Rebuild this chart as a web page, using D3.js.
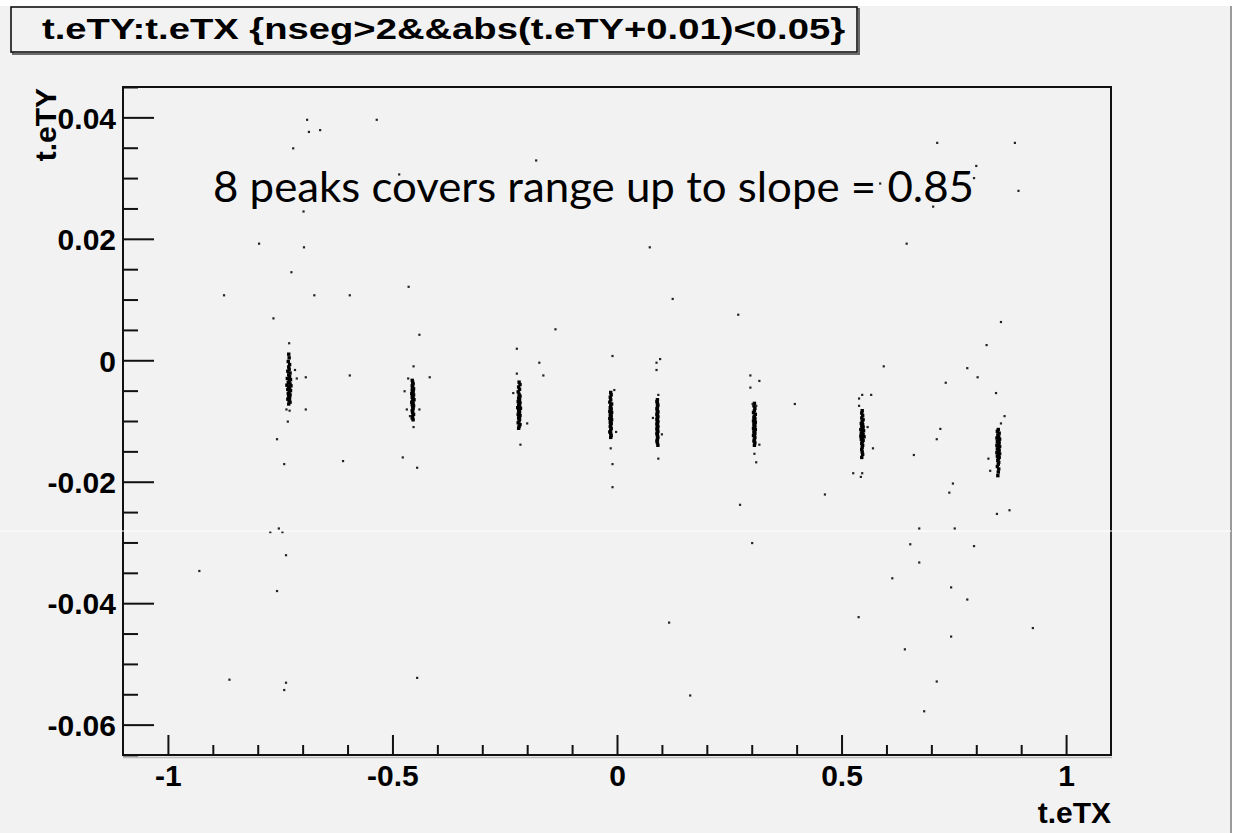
<!DOCTYPE html>
<html><head><meta charset="utf-8">
<script src="https://cdn.jsdelivr.net/npm/d3@7/dist/d3.min.js"></script>
<style>html,body{margin:0;padding:0;background:#fff;}svg{display:block;}</style>
</head><body>
<script>
// ---- data ----
const titleText = "t.eTY:t.eTX {nseg>2&&abs(t.eTY+0.01)<0.05}";
const noteText = "8 peaks covers range up to slope = 0.85";
const xTitle = "t.eTX", yTitle = "t.eTY";
const xMajor = [-1, -0.5, 0, 0.5, 1];
const xMajorLabels = ["-1", "-0.5", "0", "0.5", "1"];
const yMajor = [-0.06, -0.04, -0.02, 0, 0.02, 0.04];
const yMajorLabels = ["-0.06", "-0.04", "-0.02", "0", "0.02", "0.04"];
const xDomain = [-1.1, 1.1];
const yDomain = [-0.065, 0.045];

const peak1 = [[-0.731,0.0010],[-0.730,0.0004],[-0.732,-0.0002],[-0.729,-0.0007],[-0.731,-0.0011],[-0.730,-0.0015],[-0.733,-0.0018],[-0.728,-0.0021],[-0.731,-0.0024],[-0.729,-0.0027],[-0.734,-0.0030],[-0.727,-0.0032],[-0.730,-0.0034],[-0.732,-0.0037],[-0.728,-0.0039],[-0.735,-0.0041],[-0.726,-0.0042],[-0.731,-0.0044],[-0.729,-0.0046],[-0.733,-0.0048],[-0.727,-0.0050],[-0.730,-0.0052],[-0.732,-0.0055],[-0.728,-0.0057],[-0.731,-0.0059],[-0.729,-0.0062],[-0.733,-0.0064],[-0.730,-0.0066],[-0.728,-0.0069],[-0.731,-0.0072]];
const peak2 = [[-0.456,-0.0033],[-0.455,-0.0036],[-0.454,-0.0039],[-0.456,-0.0042],[-0.455,-0.0045],[-0.453,-0.0047],[-0.456,-0.0049],[-0.454,-0.0051],[-0.455,-0.0053],[-0.457,-0.0055],[-0.453,-0.0057],[-0.455,-0.0059],[-0.456,-0.0061],[-0.454,-0.0063],[-0.452,-0.0065],[-0.455,-0.0067],[-0.457,-0.0069],[-0.454,-0.0071],[-0.456,-0.0073],[-0.453,-0.0075],[-0.455,-0.0077],[-0.454,-0.0080],[-0.456,-0.0083],[-0.455,-0.0086],[-0.453,-0.0089],[-0.455,-0.0092],[-0.456,-0.0095],[-0.454,-0.0098]];
const peak3 = [[-0.218,-0.0036],[-0.216,-0.0040],[-0.219,-0.0044],[-0.217,-0.0048],[-0.220,-0.0052],[-0.218,-0.0056],[-0.216,-0.0059],[-0.219,-0.0062],[-0.217,-0.0064],[-0.218,-0.0066],[-0.220,-0.0068],[-0.216,-0.0070],[-0.218,-0.0072],[-0.219,-0.0074],[-0.217,-0.0076],[-0.221,-0.0078],[-0.215,-0.0079],[-0.218,-0.0081],[-0.219,-0.0083],[-0.217,-0.0085],[-0.218,-0.0087],[-0.220,-0.0089],[-0.216,-0.0091],[-0.218,-0.0093],[-0.219,-0.0095],[-0.217,-0.0097],[-0.218,-0.0100],[-0.220,-0.0103],[-0.216,-0.0106],[-0.218,-0.0109],[-0.219,-0.0112]];
const peak4 = [[-0.014,-0.0053],[-0.013,-0.0057],[-0.015,-0.0061],[-0.014,-0.0065],[-0.016,-0.0069],[-0.012,-0.0072],[-0.014,-0.0075],[-0.015,-0.0078],[-0.013,-0.0080],[-0.014,-0.0082],[-0.016,-0.0084],[-0.012,-0.0086],[-0.014,-0.0088],[-0.015,-0.0090],[-0.013,-0.0092],[-0.014,-0.0094],[-0.016,-0.0096],[-0.012,-0.0098],[-0.014,-0.0100],[-0.015,-0.0102],[-0.013,-0.0104],[-0.014,-0.0106],[-0.015,-0.0109],[-0.013,-0.0112],[-0.014,-0.0115],[-0.016,-0.0118],[-0.014,-0.0121],[-0.013,-0.0124],[-0.014,-0.0127]];
const peak5 = [[0.090,-0.0065],[0.089,-0.0068],[0.090,-0.0071],[0.091,-0.0074],[0.090,-0.0077],[0.089,-0.0080],[0.090,-0.0083],[0.091,-0.0085],[0.090,-0.0087],[0.089,-0.0089],[0.090,-0.0091],[0.091,-0.0093],[0.090,-0.0095],[0.089,-0.0097],[0.090,-0.0099],[0.091,-0.0101],[0.090,-0.0103],[0.089,-0.0105],[0.090,-0.0107],[0.091,-0.0109],[0.090,-0.0111],[0.089,-0.0113],[0.090,-0.0115],[0.091,-0.0117],[0.090,-0.0119],[0.089,-0.0121],[0.090,-0.0124],[0.091,-0.0127],[0.090,-0.0130],[0.089,-0.0133],[0.090,-0.0136],[0.091,-0.0140]];
const peak6 = [[0.306,-0.0071],[0.305,-0.0075],[0.307,-0.0079],[0.306,-0.0083],[0.304,-0.0086],[0.308,-0.0089],[0.306,-0.0092],[0.305,-0.0094],[0.307,-0.0096],[0.306,-0.0098],[0.304,-0.0100],[0.308,-0.0102],[0.306,-0.0104],[0.305,-0.0106],[0.307,-0.0108],[0.306,-0.0110],[0.304,-0.0112],[0.308,-0.0114],[0.306,-0.0116],[0.305,-0.0118],[0.307,-0.0120],[0.306,-0.0122],[0.304,-0.0124],[0.307,-0.0127],[0.306,-0.0130],[0.305,-0.0133],[0.307,-0.0136],[0.306,-0.0140]];
const peak7 = [[0.546,-0.0083],[0.545,-0.0087],[0.547,-0.0091],[0.545,-0.0095],[0.548,-0.0098],[0.546,-0.0101],[0.544,-0.0104],[0.547,-0.0106],[0.545,-0.0108],[0.548,-0.0110],[0.546,-0.0112],[0.543,-0.0114],[0.549,-0.0116],[0.546,-0.0118],[0.544,-0.0120],[0.548,-0.0122],[0.546,-0.0124],[0.543,-0.0125],[0.550,-0.0126],[0.546,-0.0128],[0.544,-0.0130],[0.548,-0.0132],[0.546,-0.0134],[0.545,-0.0137],[0.547,-0.0140],[0.546,-0.0143],[0.545,-0.0147],[0.546,-0.0151],[0.547,-0.0155],[0.545,-0.0160]];
const peak8 = [[0.849,-0.0114],[0.847,-0.0117],[0.851,-0.0120],[0.848,-0.0123],[0.850,-0.0126],[0.846,-0.0128],[0.852,-0.0130],[0.849,-0.0132],[0.847,-0.0134],[0.851,-0.0136],[0.849,-0.0138],[0.846,-0.0140],[0.852,-0.0142],[0.849,-0.0144],[0.847,-0.0146],[0.851,-0.0148],[0.849,-0.0150],[0.846,-0.0152],[0.852,-0.0154],[0.849,-0.0156],[0.847,-0.0158],[0.851,-0.0160],[0.849,-0.0162],[0.848,-0.0165],[0.850,-0.0168],[0.849,-0.0171],[0.847,-0.0175],[0.850,-0.0179],[0.849,-0.0184],[0.848,-0.0190]];

const outliers = [
[-0.690,0.0396],[-0.535,0.0396],[-0.686,0.0376],[-0.661,0.0379],[-0.721,0.0349],[-0.180,0.0329],[-0.485,0.0306],[-0.698,0.0245],[-0.797,0.0192],[-0.697,0.0186],[-0.725,0.0145],[-0.464,0.0121],[-0.875,0.0107],[-0.674,0.0107],[-0.595,0.0107],[-0.765,0.0069],[-0.440,0.0042],[-0.137,0.0051],
[0.713,0.0358],[0.886,0.0358],[0.800,0.0320],[0.795,0.0300],[0.586,0.0291],[0.894,0.0279],[0.704,0.0253],[0.073,0.0186],[0.645,0.0192],[0.124,0.0101],[0.270,0.0075],[0.855,0.0063],
[-0.730,0.0028],[-0.717,-0.0016],[-0.713,-0.0030],[-0.693,-0.0028],[-0.693,-0.0081],[-0.736,-0.0081],[-0.729,-0.0083],[-0.733,-0.0101],[-0.757,-0.0130],[-0.595,-0.0025],
[-0.453,-0.0010],[-0.465,-0.0030],[-0.417,-0.0028],[-0.473,-0.0051],[-0.440,-0.0081],[-0.468,-0.0081],[-0.461,-0.0092],[-0.453,-0.0110],[-0.477,-0.0160],
[-0.223,0.0019],[-0.173,-0.0004],[-0.164,-0.0025],[-0.223,-0.0022],[-0.231,-0.0054],[-0.200,-0.0104],[-0.215,-0.0139],
[-0.010,0.0007],[-0.006,-0.0049],[-0.002,-0.0118],[-0.014,-0.0145],
[0.088,-0.0004],[0.096,0.0002],[0.088,-0.0016],[0.092,-0.0057],[0.080,-0.0095],[0.100,-0.0122],[0.092,-0.0162],
[0.297,-0.0025],[0.317,-0.0034],[0.297,-0.0045],[0.302,-0.0072],[0.310,-0.0075],[0.317,-0.0139],[0.306,-0.0154],[0.396,-0.0072],
[0.594,-0.0010],[0.546,-0.0057],[0.566,-0.0057],[0.539,-0.0063],[0.539,-0.0075],[0.558,-0.0110],[0.570,-0.0145],
[0.823,0.0025],[0.780,-0.0013],[0.803,-0.0028],[0.732,-0.0037],[0.844,-0.0054],[0.863,-0.0092],[0.855,-0.0104],[0.720,-0.0113],[0.712,-0.0130],[0.661,-0.0156],[0.827,-0.0162],[0.831,-0.0182],
[-0.741,-0.0171],[-0.610,-0.0166],[-0.445,-0.0177],[-0.010,-0.0171],[-0.010,-0.0209],[-0.753,-0.0277],[-0.772,-0.0283],[-0.745,-0.0283],[-0.737,-0.0321],[-0.930,-0.0347],[-0.757,-0.0380],[-0.863,-0.0526],[-0.737,-0.0531],[-0.741,-0.0543],[-0.445,-0.0523],
[0.310,-0.0168],[0.526,-0.0186],[0.546,-0.0186],[0.543,-0.0192],[0.463,-0.0221],[0.748,-0.0203],[0.740,-0.0218],[0.274,-0.0238],[0.846,-0.0253],[0.874,-0.0247],[0.673,-0.0277],[0.752,-0.0277],[0.301,-0.0301],[0.653,-0.0303],[0.795,-0.0306],[0.673,-0.0333],[0.613,-0.0359],[0.744,-0.0374],[0.780,-0.0394],[0.538,-0.0423],[0.116,-0.0432],[0.926,-0.0441],[0.744,-0.0455],[0.641,-0.0476],[0.712,-0.0529],[0.163,-0.0552],[0.684,-0.0578]
];

// ---- drawing ----
const W = 1236, H = 833;
const frame = {left: 123, top: 87, right: 1111, bottom: 755};
const svg = d3.select("body").append("svg").attr("width", W).attr("height", H);

svg.append("rect").attr("width", W).attr("height", H).attr("fill", "#f2f2f2");
svg.append("rect").attr("x", 0).attr("y", 0).attr("width", W).attr("height", 6).attr("fill", "#ffffff");
svg.append("rect").attr("x", 1232).attr("y", 0).attr("width", 4).attr("height", H).attr("fill", "#ffffff");
svg.append("line").attr("x1", 1231).attr("x2", 1231).attr("y1", 6).attr("y2", H).attr("stroke", "#9a9a9a").attr("stroke-width", 2);

const x = d3.scaleLinear().domain(xDomain).range([frame.left, frame.right]);
const y = d3.scaleLinear().domain(yDomain).range([frame.bottom, frame.top]);

const fontAxis = "'Liberation Sans', Arial, sans-serif";

// title box
svg.append("rect").attr("x", 13).attr("y", 9).attr("width", 846).attr("height", 45)
  .attr("fill", "none").attr("stroke", "#6a6a6a").attr("stroke-width", 2);
svg.append("rect").attr("x", 11).attr("y", 7).attr("width", 846).attr("height", 45)
  .attr("fill", "#f2f2f2").attr("stroke", "#111").attr("stroke-width", 1.6);
svg.append("text").attr("x", 42).attr("y", 39).text(titleText)
  .attr("font-family", fontAxis).attr("font-weight", "bold").attr("font-size", 30)
  .attr("textLength", 803).attr("lengthAdjust", "spacingAndGlyphs").attr("fill", "#000");

// points
const pts = [].concat(peak1, peak2, peak3, peak4, peak5, peak6, peak7, peak8);
svg.append("g").selectAll("rect").data(pts).join("rect")
  .attr("x", d => x(d[0]) - 1.7).attr("y", d => y(d[1]) - 1.7)
  .attr("width", 3.4).attr("height", 3.4).attr("fill", "#000");
svg.append("g").selectAll("rect").data(outliers).join("rect")
  .attr("x", d => x(d[0]) - 1.1).attr("y", d => y(d[1]) - 1.1)
  .attr("width", 2.2).attr("height", 2.2).attr("fill", "#222");

// axes
const xMinor = d3.range(-1.1, 1.1001, 0.1).map(v => +v.toFixed(2)).filter(v => !xMajor.some(m => Math.abs(m - v) < 1e-9));
const yMinor = d3.range(-0.065, 0.0451, 0.005).map(v => +v.toFixed(3)).filter(v => !yMajor.some(m => Math.abs(m - v) < 1e-9));

function styleAxis(g) {
  g.select(".domain").remove();
  g.selectAll(".tick line").attr("stroke", "#111").attr("stroke-width", 2);
  g.selectAll("text").attr("font-family", fontAxis).attr("font-weight", "bold").attr("font-size", 30).attr("fill", "#000");
}

svg.append("g").attr("transform", `translate(${frame.left},0)`)
  .call(d3.axisLeft(y).tickValues(yMinor).tickSize(-15).tickFormat(""))
  .call(styleAxis);
svg.append("g").attr("transform", `translate(${frame.left},0)`)
  .call(d3.axisLeft(y).tickValues(yMajor).tickSize(-31).tickPadding(7)
    .tickFormat((d, i) => yMajorLabels[i]))
  .call(styleAxis)
  .call(g => g.selectAll("text").attr("dy", "0.36em"));

svg.append("g").attr("transform", `translate(0,${frame.bottom})`)
  .call(d3.axisBottom(x).tickValues(xMinor.filter(v => v > -1.1 + 1e-6 && v < 1.1 - 1e-6)).tickSize(-10).tickFormat(""))
  .call(styleAxis);
svg.append("g").attr("transform", `translate(0,${frame.bottom})`)
  .call(d3.axisBottom(x).tickValues(xMajor).tickSize(-20).tickPadding(10)
    .tickFormat((d, i) => xMajorLabels[i]))
  .call(styleAxis)
  .call(g => g.selectAll("text").attr("dy", "0.71em"));

// frame
svg.append("rect").attr("x", frame.left).attr("y", frame.top)
  .attr("width", frame.right - frame.left).attr("height", frame.bottom - frame.top)
  .attr("fill", "none").attr("stroke", "#111").attr("stroke-width", 2);
svg.append("line").attr("x1", frame.left).attr("x2", frame.right + 1)
  .attr("y1", frame.bottom + 2.5).attr("y2", frame.bottom + 2.5).attr("stroke", "#bdbdbd").attr("stroke-width", 1.5);

// axis titles
svg.append("text").attr("x", frame.right).attr("y", 823).attr("text-anchor", "end")
  .attr("font-family", fontAxis).attr("font-weight", "bold").attr("font-size", 30).text(xTitle);
svg.append("text").attr("transform", `translate(56,${frame.top + 1}) rotate(-90)`).attr("text-anchor", "end")
  .attr("font-family", fontAxis).attr("font-weight", "bold").attr("font-size", 30).text(yTitle);

// stitch artifact line
svg.append("line").attr("x1", 0).attr("x2", 1231).attr("y1", 531).attr("y2", 531)
  .attr("stroke", "#ffffff").attr("stroke-width", 1);

// annotation
svg.append("text").attr("x", 213).attr("y", 202).text(noteText)
  .attr("font-family", "Lato, 'Open Sans', sans-serif").attr("font-size", 42)
  .attr("textLength", 761).attr("lengthAdjust", "spacingAndGlyphs").attr("fill", "#000");
</script>
</body></html>
